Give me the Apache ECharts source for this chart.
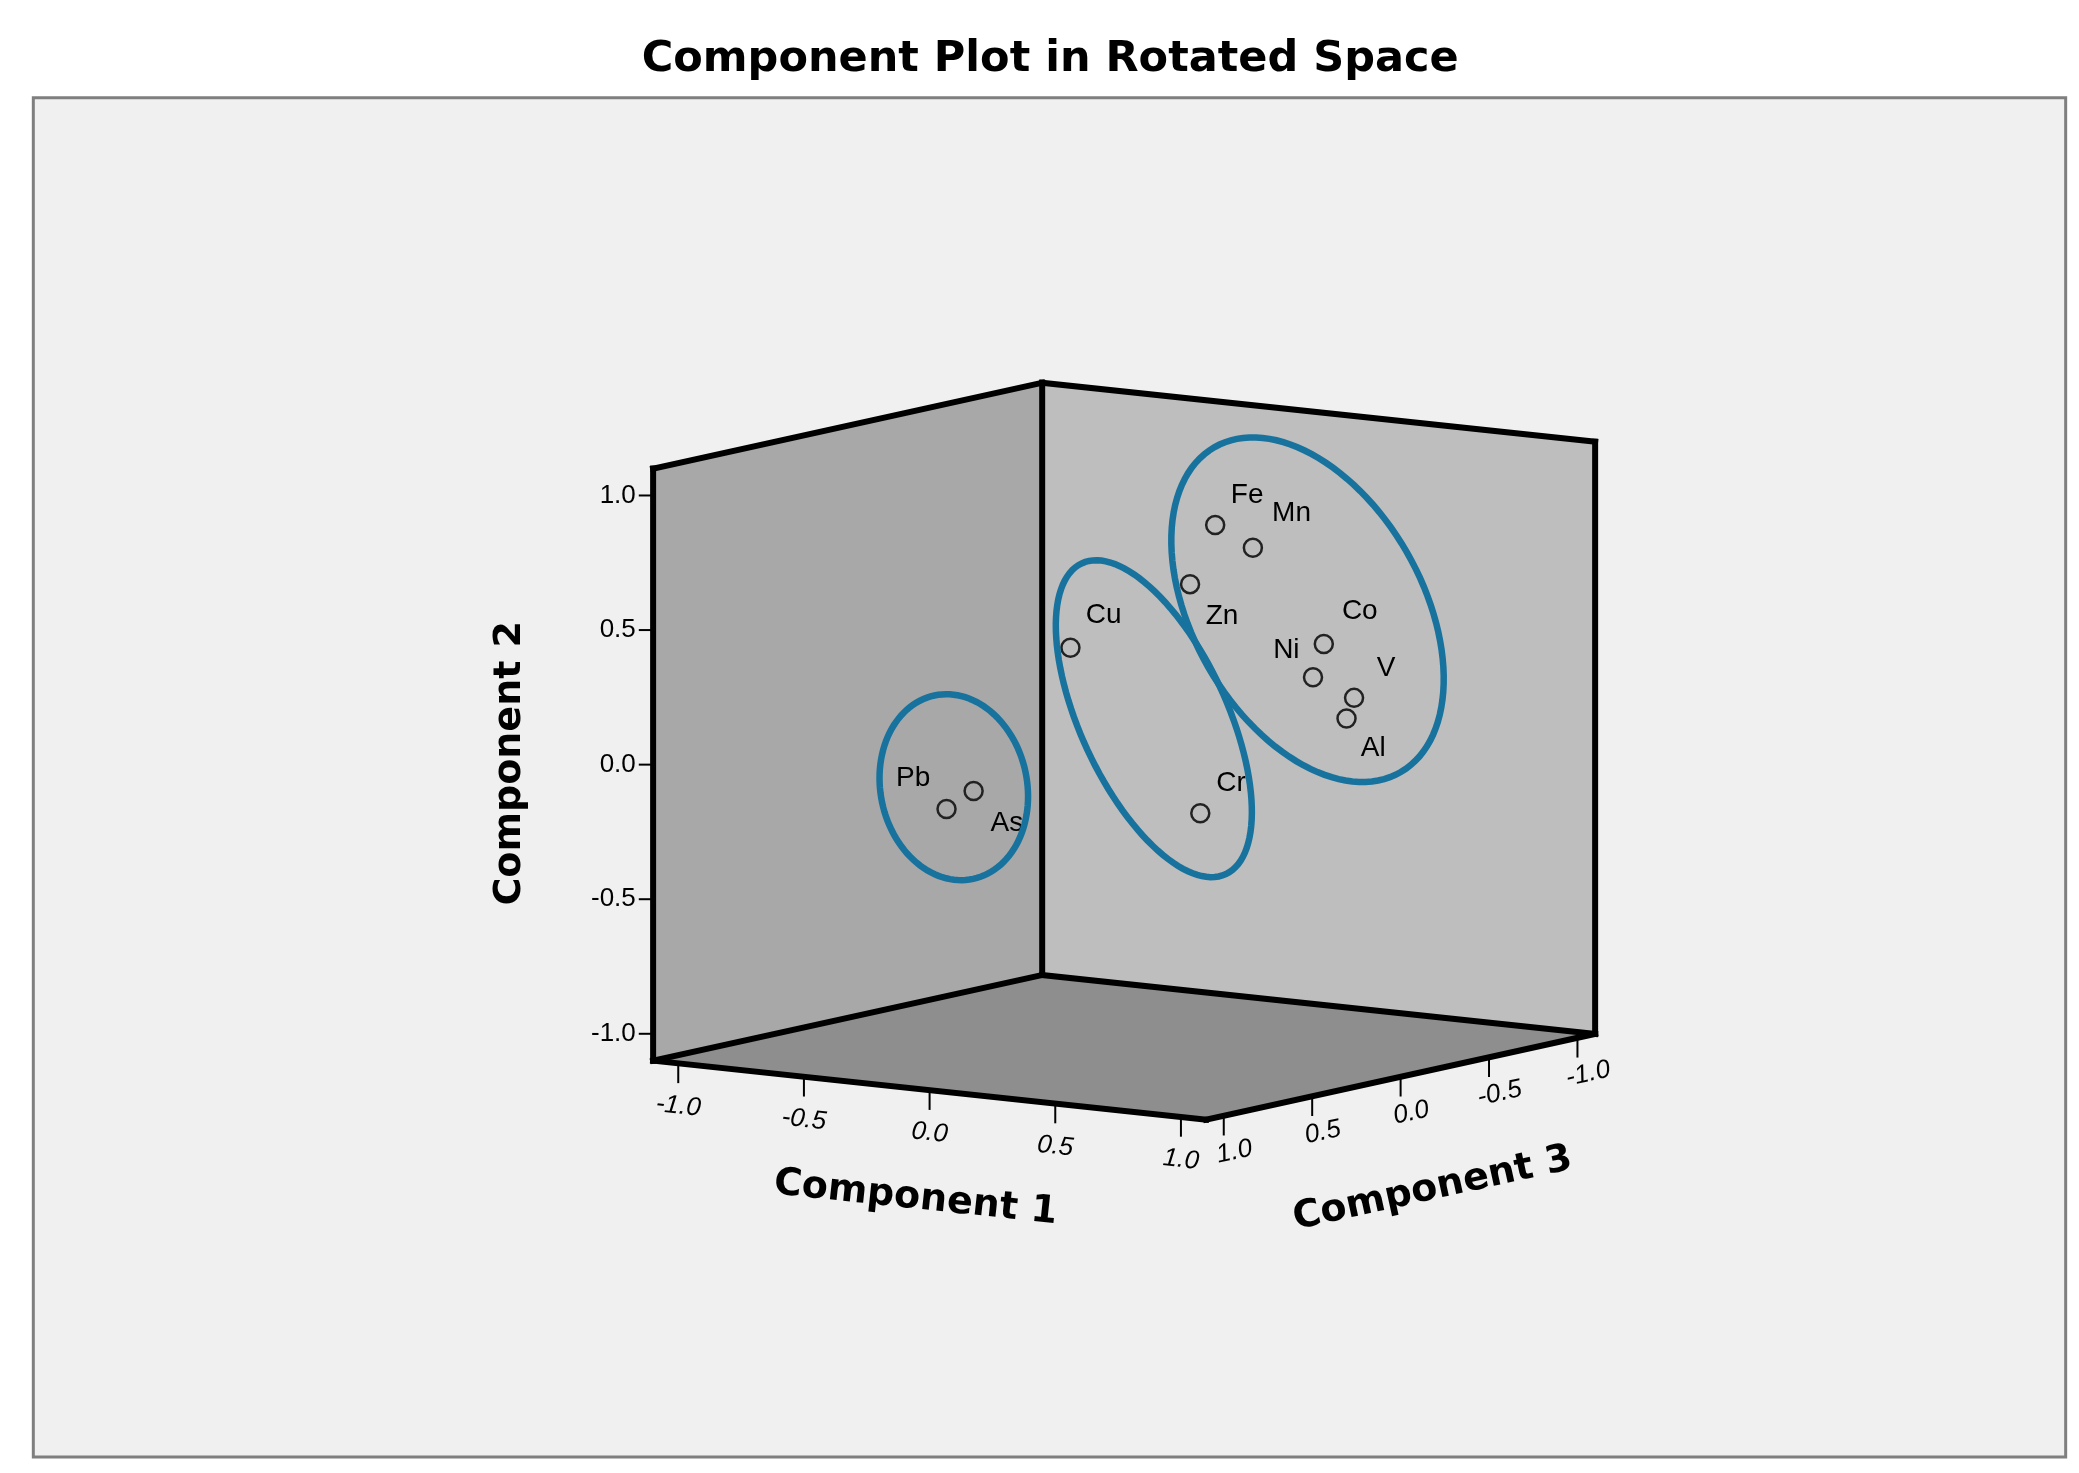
<!DOCTYPE html>
<html><head><meta charset="utf-8">
<script src="https://cdn.jsdelivr.net/npm/echarts@6/dist/echarts.min.js"></script>
<style>html,body{margin:0;padding:0;background:#fff}#c{width:2079px;height:1473px}</style>
</head><body><div id="c"></div>
<script>
// Data: component loadings
const names = ['Fe','Mn','Zn','Cu','Co','Ni','V','Al','Cr','Pb','As'];
const comp1 = [0.70,0.85,0.60,0.30,0.90,0.85,0.95,0.92,0.50,-0.20,-0.05];
const comp2 = [0.98,0.91,0.75,0.52,0.51,0.38,0.30,0.22,-0.14,-0.13,-0.04];
const comp3 = [0.48,0.48,0.48,0.73,0.15,0.14,0.05,0.05,0.28,0.72,0.78];
const tickValues = [-1,-0.5,0,0.5,1];
const tickLabels = ['-1.0','-0.5','0.0','0.5','1.0'];
// label offsets (style)
const labelOff = {Fe:[24,-22],Mn:[29,-26],Zn:[24,24],Cu:[25,-24],Co:[27,-24],Ni:[-20,-20],V:[24,-22],Al:[20,22],Cr:[23,-22],Pb:[-25,-23],As:[25,24]};
// cluster outlines: center in component space, radii & tilt (style)
const clusters = [
  {c:[-0.15,-0.04,0.75], rx:55, ry:70, a:12},
  {c:[0.47,0.24,0.5], rx:55, ry:128, a:25},
  {c:[0.8,0.62,0.1], rx:86, ry:140, a:30}
];
const L = 1.1;
function P(a,b,c){ return [843.5+188.6*a-132.7*c, 561+20*a+29.1*c-201*b]; }
const FONT = '"Liberation Sans", Arial, sans-serif';
const BFONT = '"DejaVu Sans", Verdana, sans-serif';

const chart = echarts.init(document.getElementById('c'));
function renderAll(params, api){
  const C = p => api.coord(p);
  const poly = (pts, fill) => ({type:'polygon', shape:{points:pts.map(p=>C(p))}, style:{fill:fill, stroke:null}});
  const line = (p,q,w,col) => {const a=C(p),b=C(q);return {type:'line',shape:{x1:a[0],y1:a[1],x2:b[0],y2:b[1]},style:{stroke:col||'#000',lineWidth:w,lineCap:'square'}};};
  const text = (p,t,size,opt) => {const a=C(p);opt=opt||{};return {type:'text',x:a[0],y:a[1],rotation:opt.rot||0,style:{text:t,font:(opt.bold?'bold ':'')+(opt.italic?'italic ':'')+size+'px '+(opt.family||FONT),fill:'#000',align:opt.align||'center',verticalAlign:'middle'}};};
  const ch = [];
  const tl=C([25,73]), br=C([1550,1088]);
  ch.push({type:'rect',shape:{x:tl[0],y:tl[1],width:br[0]-tl[0],height:br[1]-tl[1]},style:{fill:'#f0f0f0',stroke:'#7f7f7f',lineWidth:3}});
  ch.push(text([788,45],'Component Plot in Rotated Space',43,{bold:true,family:BFONT}));
  ch.push(poly([P(-L,-L,L),P(-L,-L,-L),P(-L,L,-L),P(-L,L,L)],'#a8a8a8'));
  ch.push(poly([P(-L,-L,-L),P(L,-L,-L),P(L,L,-L),P(-L,L,-L)],'#bebebe'));
  ch.push(poly([P(-L,-L,L),P(L,-L,L),P(L,-L,-L),P(-L,-L,-L)],'#8e8e8e'));
  const W=6;
  [[P(-L,-L,L),P(-L,L,L)],[P(-L,L,L),P(-L,L,-L)],[P(-L,L,-L),P(L,L,-L)],[P(L,L,-L),P(L,-L,-L)],
   [P(-L,-L,-L),P(-L,L,-L)],[P(-L,-L,L),P(-L,-L,-L)],[P(-L,-L,-L),P(L,-L,-L)],
   [P(-L,-L,L),P(L,-L,L)],[P(L,-L,L),P(L,-L,-L)]].forEach(e=>ch.push(line(e[0],e[1],W)));
  tickValues.forEach((t,i)=>{const p=P(-L,t,L);ch.push(line([p[0]-10,p[1]],p,2));
    ch.push(text([p[0]-13,p[1]],tickLabels[i],26,{align:'right'}));});
  const r1=-Math.atan2(20,188.6);
  tickValues.forEach((t,i)=>{const p=P(t,-L,L);ch.push(line(p,[p[0],p[1]+14],2));
    ch.push(text([p[0],p[1]+32],tickLabels[i],26,{italic:true,rot:r1}));});
  const r3=Math.atan2(29.1,132.7);
  tickValues.forEach((t,i)=>{const p=P(L,-L,t);ch.push(line(p,[p[0],p[1]+14],2));
    ch.push(text([p[0]+8,p[1]+27],tickLabels[i],26,{italic:true,rot:r3}));});
  ch.push(text([383,570],'Component 2',38,{bold:true,rot:Math.PI/2,family:BFONT}));
  ch.push(text([687,895],'Component 1',38,{bold:true,rot:r1,family:BFONT}));
  ch.push(text([1075,888],'Component 3',38,{bold:true,rot:r3,family:BFONT}));
  names.forEach((n,i)=>{const p=P(comp1[i],comp2[i],comp3[i]);const a=C(p);
    ch.push({type:'circle',shape:{cx:a[0],cy:a[1],r:9},style:{fill:null,stroke:'#222',lineWidth:2.5}});
    const o=labelOff[n];ch.push(text([p[0]+o[0],p[1]+o[1]],n,28));});
  clusters.forEach(cl=>{const c=P(cl.c[0],cl.c[1],cl.c[2]);const a=cl.a*Math.PI/180;const pts=[];
    for(let k=0;k<=120;k++){const th=k/120*2*Math.PI;const u=cl.rx*Math.cos(th),v=cl.ry*Math.sin(th);
      pts.push(C([c[0]+u*Math.cos(a)+v*Math.sin(a), c[1]-u*Math.sin(a)+v*Math.cos(a)]));}
    ch.push({type:'polyline',shape:{points:pts},style:{fill:null,stroke:'#17729e',lineWidth:6.5}});});
  return {type:'group',children:ch};
}
chart.setOption({
  animation:false,
  backgroundColor:'#ffffff',
  grid:{left:0,right:0,top:0,bottom:0},
  xAxis:{type:'value',min:0,max:1560,show:false},
  yAxis:{type:'value',min:0,max:1100,inverse:true,show:false},
  series:[{type:'custom',renderItem:renderAll,data:[[0,0]],clip:false}]
});
</script></body></html>
